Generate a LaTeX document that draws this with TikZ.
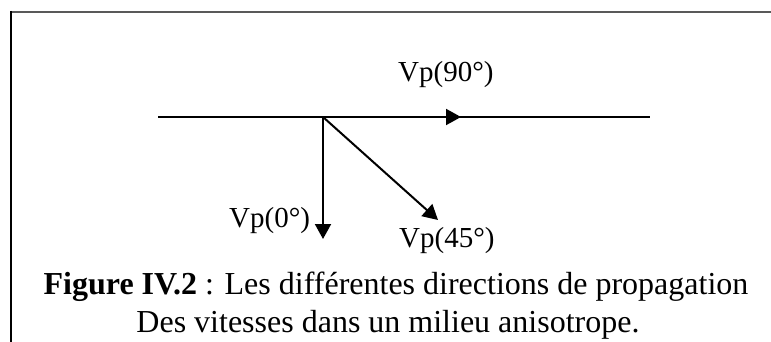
\documentclass[tikz,border=0pt]{standalone}
\usepackage{fontspec}
\setmainfont{Liberation Serif}
\usetikzlibrary{arrows.meta,positioning}

\begin{document}
\begin{tikzpicture}[
  x=1pt,y=-1pt,
  lbl/.style={font=\fontsize{29}{34}\selectfont,inner sep=0pt},
  captxt/.style={font=\fontsize{32}{38}\selectfont,inner sep=0pt},
  vec/.style={-{Triangle[length=15pt,width=16pt]},line width=2pt},
  axis/.style={line width=2pt}
]
\useasboundingbox (0,0) rectangle (771,342);
% frame
\draw[line width=2.2pt,black!65] (10,12) -- (771,12);
\draw[line width=2.2pt] (11,11) -- (11,342);
% directions
\coordinate (orig) at (323,117);
\coordinate (west) at (158,117);
\coordinate (east) at (650,117);
\coordinate (mid) at (461,117);
\coordinate (down) at (323,239);
\coordinate (diag) at (438,220);
\draw[axis] (west) -- (east);
\draw[vec] (orig) -- (mid);
\draw[vec] (orig) -- (down);
\draw[vec] (orig) -- (diag);
\node[lbl,anchor=base west] (v90) at (398,82) {Vp(90°)};
\node[lbl,anchor=base west] (v0) at (229,227) {Vp(0°)};
\node[lbl,anchor=base west] (v45) at (399,247) {Vp(45°)};
% caption
\node[captxt] (cap1) at (396,287) {\textbf{Figure IV.2} : Les différentes directions de propagation};
\node[captxt] (cap2) at (388,325) {Des vitesses dans un milieu anisotrope.};
\end{tikzpicture}
\end{document}
